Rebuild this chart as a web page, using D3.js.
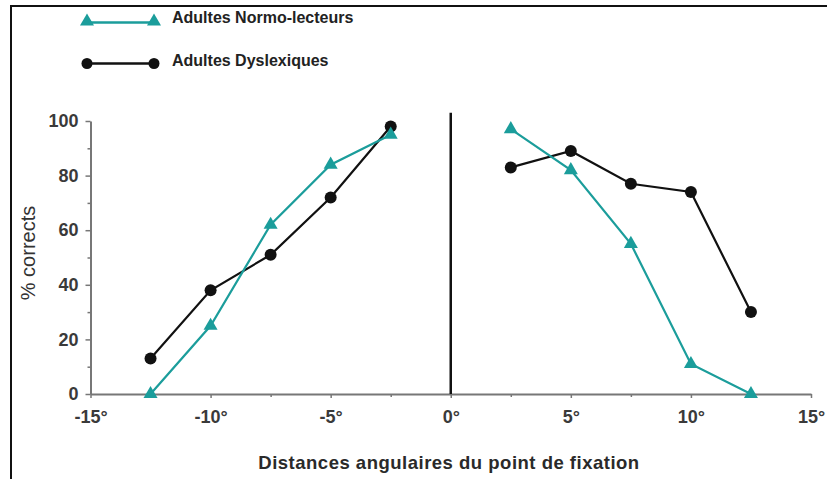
<!DOCTYPE html>
<html><head><meta charset="utf-8">
<script src="https://cdn.jsdelivr.net/npm/d3@7"></script>
<style>body{margin:0;background:#fff}svg{display:block;font-family:"Liberation Sans",Arial,sans-serif}</style>
</head><body><svg id="c" width="827" height="479"></svg>
<script>
const xValues = [-12.5, -10, -7.5, -5, -2.5, 2.5, 5, 7.5, 10, 12.5];
const normoLecteurs = [0, 25, 62, 84, 95, 97, 82, 55, 11, 0];
const dyslexiques = [13, 38, 51, 72, 98, 83, 89, 77, 74, 30];
const xTickValues = [-15, -10, -5, 0, 5, 10, 15];
const xTickLabels = ["-15°", "-10°", "-5°", "0°", "5°", "10°", "15°"];
const xMinorTicks = [-12.5, -7.5, -2.5, 2.5, 7.5, 12.5];
const yTickValues = [0, 20, 40, 60, 80, 100];
const yMinorTicks = [10, 30, 50, 70, 90];
const seriesNames = ["Adultes Normo-lecteurs", "Adultes Dyslexiques"];

const teal = "#1b9d9b";
const svg = d3.select("#c");
svg.append("rect").attr("x",11).attr("y",6).attr("width",830).attr("height",490)
  .attr("fill","none").attr("stroke","#111").attr("stroke-width",2);

const x = d3.scaleLinear().domain([-15,15]).range([90.5,811]);
const y = d3.scaleLinear().domain([0,100]).range([394,121]);
const gray = "#777";

// Axes
const gx = svg.append("g").attr("transform",`translate(0,${y(0)})`)
  .call(d3.axisBottom(x).tickValues(xTickValues).tickFormat((d,i)=>xTickLabels[i]).tickSizeInner(4).tickSizeOuter(0).tickPadding(12));
gx.select(".domain").attr("stroke",gray).attr("stroke-width",2);
gx.selectAll(".tick line").attr("stroke",gray).attr("stroke-width",1.5);
gx.selectAll(".tick text").attr("font-size",18).attr("font-weight","bold").attr("fill","#3a3a3a");
const gxm = svg.append("g").attr("transform",`translate(0,${y(0)})`)
  .call(d3.axisBottom(x).tickValues(xMinorTicks).tickFormat("").tickSizeInner(3).tickSizeOuter(0));
gxm.select(".domain").remove();
gxm.selectAll(".tick line").attr("stroke",gray).attr("stroke-width",1.5);

const gy = svg.append("g").attr("transform",`translate(${x(-15)},0)`)
  .call(d3.axisLeft(y).tickValues(yTickValues).tickSizeInner(5).tickSizeOuter(0).tickPadding(7));
gy.select(".domain").attr("stroke",gray).attr("stroke-width",2);
gy.selectAll(".tick line").attr("stroke",gray).attr("stroke-width",1.5);
gy.selectAll(".tick text").attr("font-size",18).attr("font-weight","bold").attr("fill","#3a3a3a");
const gym = svg.append("g").attr("transform",`translate(${x(-15)},0)`)
  .call(d3.axisLeft(y).tickValues(yMinorTicks).tickFormat("").tickSizeInner(3).tickSizeOuter(0));
gym.select(".domain").remove();
gym.selectAll(".tick line").attr("stroke",gray).attr("stroke-width",1.5);

// Fixation line
svg.append("line").attr("x1",x(0)).attr("x2",x(0)).attr("y1",y(103)).attr("y2",y(0))
  .attr("stroke","#111").attr("stroke-width",2.5);

// Titles
svg.append("text").attr("x",449).attr("y",469).attr("text-anchor","middle")
  .attr("font-size",18.5).attr("font-weight","bold").attr("letter-spacing",0.5).attr("fill","#2a2a2a")
  .text("Distances angulaires du point de fixation");
svg.append("text").attr("transform","translate(35,253) rotate(-90)").attr("text-anchor","middle")
  .attr("font-size",20).attr("fill","#333").text("% corrects");

const tri = d3.symbol().type(d3.symbolTriangle).size(85);
const line = d3.line().x(d=>x(d[0])).y(d=>y(d[1]));
function drawSeries(vals, color, marker){
  const left = xValues.map((v,i)=>[v,vals[i]]).filter(d=>d[0]<0);
  const right = xValues.map((v,i)=>[v,vals[i]]).filter(d=>d[0]>0);
  [left,right].forEach(seg=>{
    svg.append("path").attr("d",line(seg)).attr("fill","none").attr("stroke",color).attr("stroke-width",2.2);
  });
  const pts = xValues.map((v,i)=>[v,vals[i]]);
  if(marker==="tri"){
    svg.selectAll(null).data(pts).enter().append("path").attr("d",tri)
      .attr("transform",d=>`translate(${x(d[0])},${y(d[1])})`).attr("fill",color);
  } else {
    svg.selectAll(null).data(pts).enter().append("circle")
      .attr("cx",d=>x(d[0])).attr("cy",d=>y(d[1])).attr("r",6).attr("fill",color);
  }
}
drawSeries(dyslexiques,"#111","circle");
drawSeries(normoLecteurs,teal,"tri");

// Legend
const leg = [{name:seriesNames[0],color:teal,m:"tri",y:22.5,ty:19},{name:seriesNames[1],color:"#111",m:"circle",y:63.5,ty:62}];
leg.forEach(l=>{
  svg.append("line").attr("x1",87).attr("x2",154).attr("y1",l.y).attr("y2",l.y).attr("stroke",l.color).attr("stroke-width",2.5);
  [87,154].forEach(px=>{
    if(l.m==="tri") svg.append("path").attr("d",tri).attr("transform",`translate(${px},${l.y-1})`).attr("fill",l.color);
    else svg.append("circle").attr("cx",px).attr("cy",l.y).attr("r",5.5).attr("fill",l.color);
  });
  svg.append("text").attr("x",172).attr("y",l.ty).attr("dominant-baseline","middle")
    .attr("font-size",16).attr("font-weight","bold").attr("fill","#222").text(l.name);
});
</script></body></html>
